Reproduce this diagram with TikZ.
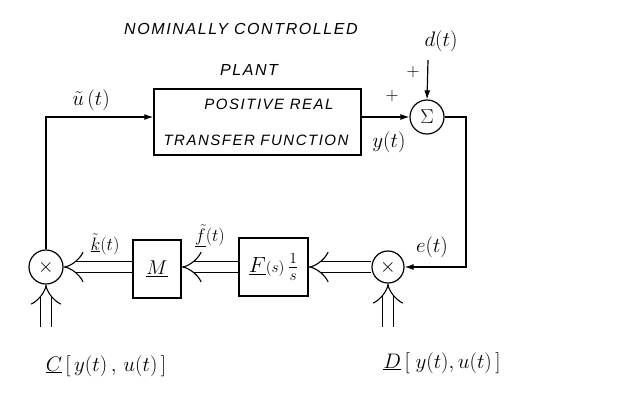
\RequirePackage{fix-cm}
\documentclass[tikz,border=0pt]{standalone}
\usepackage{fontspec}
\setmainfont{Liberation Sans}
\usetikzlibrary{arrows.meta}
\tikzset{
  blk/.style={draw, line width=1.3pt, rectangle, inner sep=0pt},
  junc/.style={draw, line width=1.2pt, circle, minimum size=34pt, inner sep=0pt, font=\fontsize{20}{20}\selectfont},
  arr/.style={line width=1.2pt, -{Latex[length=9pt,width=6pt]}},
  dbl/.style={double, double distance=10pt, line width=1.1pt, -{Implies}},
  lbl/.style={font=\fontsize{21}{23}\selectfont, inner sep=1pt},
  lblsm/.style={font=\fontsize{18}{20}\selectfont, inner sep=1pt},
  hand/.style={font=\fontsize{16}{18}\selectfont\itshape\addfontfeature{LetterSpace=10}, inner sep=1pt},
  handsm/.style={font=\fontsize{15}{17}\selectfont\itshape\addfontfeature{LetterSpace=10}, inner sep=1pt}
}
\begin{document}
\begin{tikzpicture}[x=1pt,y=-1pt]
\useasboundingbox[fill=white] (0,0) rectangle (628,405);
% title
\node[hand] (title) at (241,29) {NOMINALLY CONTROLLED};
\node[hand] (plantlbl) at (249,70) {PLANT};
% plant
\node[blk, minimum width=207pt, minimum height=66pt] (plant) at (257.5,122) {};
\node[handsm] (pr) at (269,104) {POSITIVE REAL};
\node[handsm] (tf) at (256,140) {TRANSFER FUNCTION};
% summing junction
\node[junc] (sum) at (427,117) {$\Sigma$};
\node[lbl] (dt) at (441,41) {$d(t)$};
\node[lblsm] (p1) at (413,72) {$+$};
\node[lblsm] (p2) at (392,96) {$+$};
\node[lbl] (yt) at (389,142) {$y(t)$};
\node[lbl] (ut) at (91,100) {$\tilde{u}\,(t)$};
\node[lbl] (et) at (432,247) {$e(t)$};
% lower row
\node[junc, minimum size=32pt] (xr) at (388,267) {$\times$};
\node[blk, minimum width=69pt, minimum height=58pt, font=\fontsize{22}{24}\selectfont] (F) at (273.5,267) {$\underline{F}{\scriptstyle(s)}\,\frac{1}{s}$};
\node[blk, minimum width=48pt, minimum height=58pt, font=\fontsize{20}{22}\selectfont] (M) at (157,269) {$\underline{M}$};
\node[junc] (xl) at (46,267) {$\times$};
\node[lblsm] (ft) at (210,236) {$\underline{\tilde{f}}(t)$};
\node[lblsm] (kt) at (105,244) {$\underline{\tilde{k}}(t)$};
% bottom labels
\node[lbl, font=\fontsize{21}{23}\selectfont] (C) at (106,366) {$\underline{C}\,\Bigl[\,y(t)\,,\,u(t)\,\Bigr]$};
\node[lbl, font=\fontsize{21}{23}\selectfont] (D) at (442,363) {$\underline{D}\,\Bigl[\;y(t),u(t)\,\Bigr]$};
\coordinate (cl) at (46,327);
\coordinate (cr) at (388,327);
\coordinate (tl) at (46,117);
\coordinate (tr) at (466,117);
\coordinate (br) at (466,267);
\coordinate (dtop) at (428,60);
% connectors
\draw[arr] (xl.north) |- (tl -| plant.west);
\draw[arr] (plant.east |- sum) -- (sum.west);
\draw[arr] (dtop) -- (sum.north);
\draw[arr] (sum.east) -- (tr) -- (br) -- (xr.east);
\draw[dbl] (xr.west) -- (F.east);
\draw[dbl] (F.west) -- (M.east |- F);
\draw[dbl] (M.west |- xl) -- (xl.east);
\draw[dbl] (cl) -- (xl.south);
\draw[dbl] (cr) -- (xr.south);
\end{tikzpicture}
\end{document}
